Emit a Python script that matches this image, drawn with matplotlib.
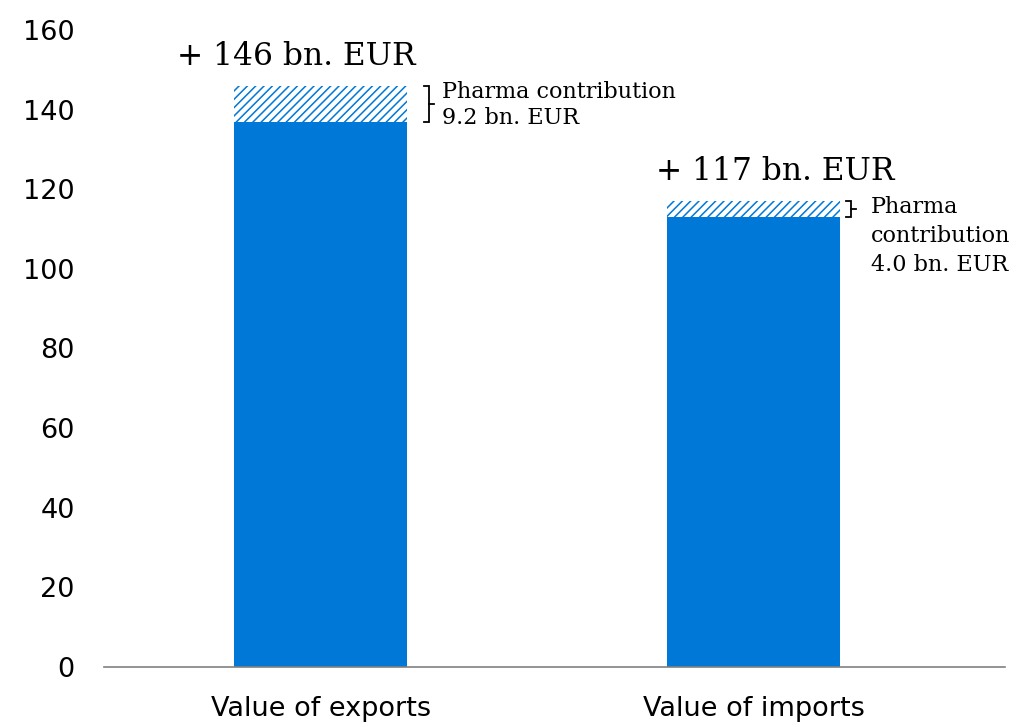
import matplotlib
matplotlib.use("Agg")
import matplotlib.pyplot as plt

categories = ["Value of exports", "Value of imports"]
totals = [146, 117]
pharma = [9.2, 4.0]
total_labels = ["+ 146 bn. EUR", "+ 117 bn. EUR"]
pharma_labels = ["Pharma contribution\n9.2 bn. EUR", "Pharma\ncontribution\n4.0 bn. EUR"]
yticks = [0, 20, 40, 60, 80, 100, 120, 140, 160]

base = [t - p for t, p in zip(totals, pharma)]
blue = "#0078D7"
plt.rcParams['hatch.linewidth'] = 1.1
plt.rcParams['hatch.color'] = blue

fig = plt.figure(figsize=(10.2, 7.27), dpi=100)
ax = fig.add_axes([104/1020, 1-667/727, (1005-104)/1020, (667-30)/727])
x = list(range(len(categories)))
w = 0.4
ax.bar(x, base, width=w, color=blue, linewidth=0)
ax.bar(x, pharma, bottom=base, width=w, facecolor="white", edgecolor=blue,
       hatch="////", linewidth=0)

ax.set_xlim(-0.5, 1.58)
ax.set_ylim(0, 160)
ax.set_yticks(yticks)
ax.set_yticklabels([str(v) for v in yticks], fontsize=19.5, family="DejaVu Sans")
ax.set_xticks(x)
ax.set_xticklabels(categories, fontsize=19.5, family="DejaVu Sans")
ax.tick_params(axis='y', length=0, pad=21)
ax.tick_params(axis='x', length=0, pad=21)
for s in ["left", "right", "top"]:
    ax.spines[s].set_visible(False)
ax.spines["bottom"].set_color("#808080")
ax.spines["bottom"].set_linewidth(1.2)

title_dx = [-0.055, 0.05]
bracket_dx = [0.05, 0.025]
text_dx = [0.08, 0.07]
text_ls = [1.25, 1.4]
for i in x:
    ax.text(i + title_dx[i], totals[i] + 5.2, total_labels[i], ha="center", va="baseline",
            fontsize=22.5, family="DejaVu Serif", color="black")
    # bracket
    bx = i + w/2 + bracket_dx[i]
    y0, y1 = base[i], totals[i]
    ym = (y0 + y1) / 2
    ax.plot([bx - 0.012, bx, bx, bx - 0.012], [y1, y1, y0, y0], color="black", lw=1.3,
            solid_joinstyle="miter", clip_on=False)
    ax.plot([bx, bx + 0.012], [ym, ym], color="black", lw=1.3, clip_on=False)
    ax.text(i + w/2 + text_dx[i], y1 + 1.3, pharma_labels[i], ha="left", va="top",
            fontsize=16, family="DejaVu Serif", linespacing=text_ls[i], color="black")

fig.savefig("out.png", dpi=100)
